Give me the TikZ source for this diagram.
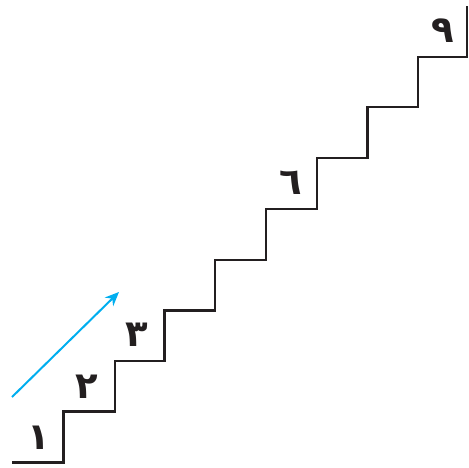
\documentclass[tikz,border=0pt]{standalone}
\usepackage{fontspec}
\newfontfamily\arabicfont[Script=Arabic]{DejaVu Sans}
\usetikzlibrary{arrows.meta}
\definecolor{arrowblue}{RGB}{0,174,239}
\definecolor{stairgray}{RGB}{35,31,32}
\tikzset{
  stairline/.style={draw=stairgray, line width=2.5pt, line join=miter},
  steplabel/.style={font=\arabicfont\bfseries\fontsize{37}{40}\selectfont, inner sep=0pt, text=stairgray},
  uparrow/.style={draw=arrowblue, line width=2pt, -{Stealth[length=14pt,width=12pt]}}
}
\begin{document}
\begin{tikzpicture}[x=1pt,y=-1pt]
\useasboundingbox (0,0) rectangle (469,467);
\coordinate (s0) at (12,462.5);
\coordinate (s1) at (63.5,462.5);
\coordinate (s2) at (63.5,411.5);
\coordinate (s3) at (115,411.5);
\coordinate (s4) at (115,361);
\coordinate (s5) at (164.5,361);
\coordinate (s6) at (164.5,310.5);
\coordinate (s7) at (215,310.5);
\coordinate (s8) at (215,260);
\coordinate (s9) at (266,260);
\coordinate (s10) at (266,209);
\coordinate (s11) at (317,209);
\coordinate (s12) at (317,158);
\coordinate (s13) at (367.5,158);
\coordinate (s14) at (367.5,107);
\coordinate (s15) at (418,107);
\coordinate (s16) at (418,57);
\coordinate (s17) at (467,57);
\coordinate (s18) at (467,6);
\draw[stairline] (s0) -- (s1) -- (s2) -- (s3) -- (s4) -- (s5) -- (s6) -- (s7) -- (s8) -- (s9) -- (s10) -- (s11) -- (s12) -- (s13) -- (s14) -- (s15) -- (s16) -- (s17) -- (s18);
\node[steplabel] (l1) at (39,438) {١};
\node[steplabel] (l2) at (87,387) {٢};
\node[steplabel] (l3) at (137,335) {٣};
\node[steplabel] (l6) at (291,183) {٦};
\node[steplabel] (l9) at (443,31) {٩};
\coordinate (a0) at (12,397);
\coordinate (a1) at (119,292);
\draw[uparrow] (a0) -- (a1);
\end{tikzpicture}
\end{document}
